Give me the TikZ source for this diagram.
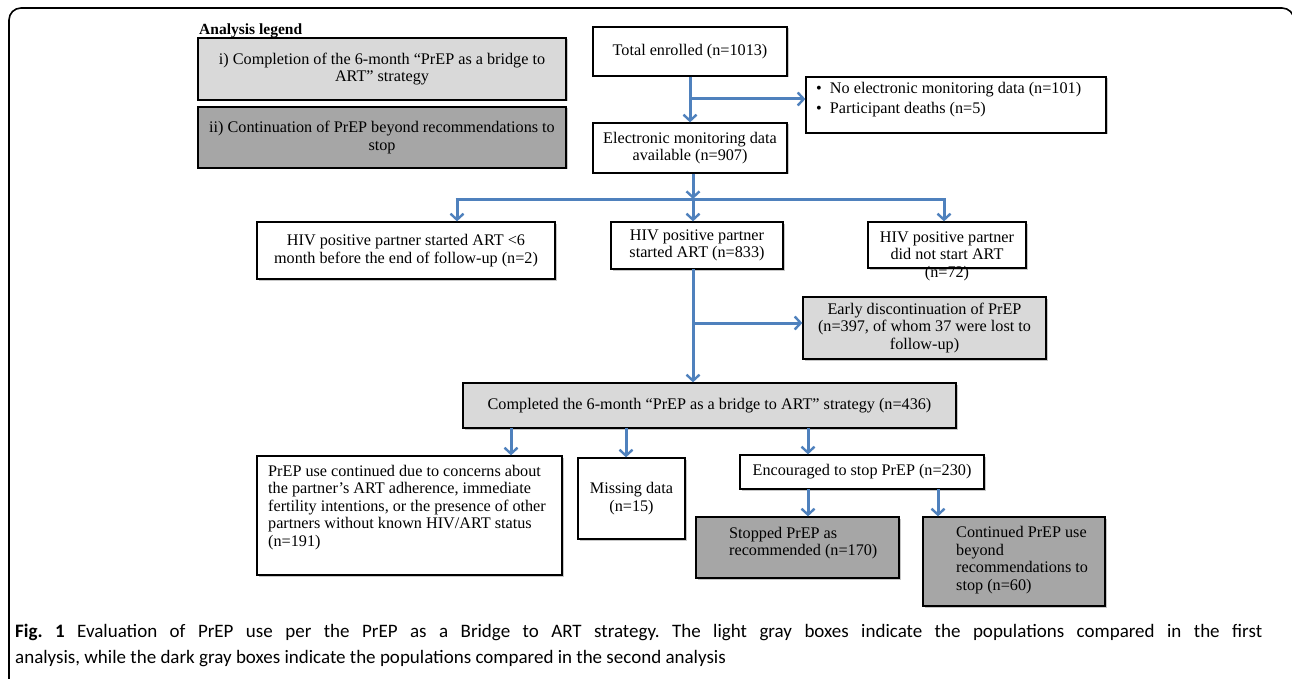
\documentclass[tikz,border=0pt]{standalone}
\usepackage{fontspec}
\setmainfont{Liberation Serif}
\newfontfamily\capfont{Carlito}
\usetikzlibrary{arrows.meta,shadows}
\definecolor{lgfill}{HTML}{D9D9D9}
\definecolor{dgfill}{HTML}{A6A6A6}
\definecolor{arrowblue}{HTML}{4F81BD}
\newcommand{\boxfnt}{\fontsize{16.2}{17.5}\selectfont}
\begin{document}
\begin{tikzpicture}[x=1pt,y=-1pt,
  box/.style={draw=black, line width=1.3pt, rectangle, inner sep=0pt, align=center, font=\boxfnt,
     drop shadow={shadow xshift=1.5pt, shadow yshift=-1.5pt, fill=black!22, opacity=1}},
  lightbox/.style={box, fill=lgfill},
  darkbox/.style={box, fill=dgfill},
  whitebox/.style={box, fill=white},
  txt/.style={inner sep=0pt, font=\boxfnt},
  conn/.style={draw=arrowblue, line width=3pt},
  arr/.style={conn, -{Straight Barb[length=6pt,width=13pt,line width=2.4pt]}},
]
\useasboundingbox (0,0) rectangle (1292,679);
\fill[white] (0,0) rectangle (1292,679);
\begin{scope}
\clip (0,0) rectangle (1292,679);
\draw[line width=1.6pt, rounded corners=12pt] (9,682) -- (9,8) -- (1294,8) -- (1294,682);
\end{scope}

% legend
\node[anchor=base west, inner sep=0pt, font=\bfseries\fontsize{15.5}{17}\selectfont] (legtitle) at (199,35) {Analysis legend};
\node[lightbox, minimum width=368pt, minimum height=62pt] (leg1) at (382,69)
  {i) Completion of the 6-month “PrEP as a bridge to\\ART” strategy};
\node[darkbox, minimum width=368pt, minimum height=61pt] (leg2) at (382,137.5)
  {ii) Continuation of PrEP beyond recommendations to\\stop};

% top of flow
\node[whitebox, minimum width=194pt, minimum height=49pt] (total) at (690,51.5) {Total enrolled (n=1013)};
\node[whitebox, minimum width=300pt, minimum height=56pt] (excl) at (956,105) {};
\node[txt, anchor=north west, align=left, font=\fontsize{16.2}{20}\selectfont] (excltxt) at (816,82)
  {\textbullet\ \ No electronic monitoring data (n=101)\\\textbullet\ \ Participant deaths (n=5)};
\node[whitebox, minimum width=194pt, minimum height=50pt] (elec) at (690,148)
  {Electronic monitoring data\\available (n=907)};

\coordinate (b1) at (690,99);
\draw[arr] (total.south) -- (elec.north);
\draw[arr] (b1) -- (b1 -| excl.west);

% split
\node[whitebox, minimum width=298pt, minimum height=57pt] (left6) at (406,250.5)
  {HIV positive partner started ART <6\\month before the end of follow-up (n=2)};
\node[whitebox, minimum width=172pt, minimum height=47pt] (mid) at (697,245.5)
  {HIV positive partner\\started ART (n=833)};
\node[whitebox, minimum width=158pt, minimum height=46pt] (right) at (947,245) {};
\node[txt, align=center] (righttxt) at (947,256) {HIV positive partner\\did not start ART\\(n=72)};

\coordinate (hL) at (457,199);
\coordinate (hM) at (693,199);
\coordinate (hR) at (944,199);
\draw[arr] (elec.south -| hM) -- (hM);
\draw[conn] ([xshift=-1.5pt]hL) -- ([xshift=1.5pt]hR);
\draw[arr] (hL) -- (hL |- left6.north);
\draw[arr] (hM) -- (hM |- mid.north);
\draw[arr] (hR) -- (hR |- right.north);

% early discontinuation
\node[lightbox, minimum width=243pt, minimum height=62pt] (early) at (924.5,328)
  {Early discontinuation of PrEP\\(n=397, of whom 37 were lost to\\follow-up)};
\node[lightbox, minimum width=493pt, minimum height=45pt] (compl) at (709.5,405.5)
  {Completed the 6-month “PrEP as a bridge to ART” strategy (n=436)};

\coordinate (m1) at (693,269);
\coordinate (b2) at (693,323);
\draw[arr] (m1) -- (m1 |- compl.north);
\draw[arr] (b2) -- (b2 -| early.west);

% bottom row
\node[whitebox, minimum width=305pt, minimum height=119pt] (prepuse) at (409.5,515.5) {};
\node[txt, anchor=north west, align=left] (prepusetxt) at (268,465)
  {PrEP use continued due to concerns about\\the partner’s ART adherence, immediate\\fertility intentions, or the presence of other\\partners without known HIV/ART status\\(n=191)};
\node[whitebox, minimum width=107pt, minimum height=81pt] (missing) at (631.5,498.5) {Missing data\\(n=15)};
\node[whitebox, minimum width=244pt, minimum height=34pt] (encour) at (862,472) {Encouraged to stop PrEP (n=230)};

\coordinate (c1) at (511,428);
\coordinate (c2) at (626,428);
\coordinate (c3) at (808,428);
\draw[arr] (c1) -- (c1 |- prepuse.north);
\draw[arr] (c2) -- (c2 |- missing.north);
\draw[arr] (c3) -- (c3 |- encour.north);

\node[darkbox, minimum width=203pt, minimum height=61pt] (stopped) at (797.5,547.5) {};
\node[txt, anchor=north west, align=left] (stoppedtxt) at (729,527) {Stopped PrEP as\\recommended (n=170)};
\node[darkbox, minimum width=182pt, minimum height=89pt] (cont) at (1014,561.5) {};
\node[txt, anchor=north west, align=left] (conttxt) at (956,526.5)
  {Continued PrEP use\\beyond\\recommendations to\\stop (n=60)};

\coordinate (e1) at (808,489);
\coordinate (e2) at (938,489);
\draw[arr] (e1) -- (e1 |- stopped.north);
\draw[arr] (e2) -- (e2 |- cont.north);

% caption
\node[anchor=base west, inner sep=0pt, align=left, font=\capfont\fontsize{19}{26}\selectfont\frenchspacing] (caption) at (15,663)
  {\makebox[1247pt][s]{\textbf{Fig.~1} Evaluation of PrEP use per the PrEP as a Bridge to ART strategy. The light gray boxes indicate the populations compared in the first}\\analysis, while the dark gray boxes indicate the populations compared in the second analysis};
\end{tikzpicture}
\end{document}
